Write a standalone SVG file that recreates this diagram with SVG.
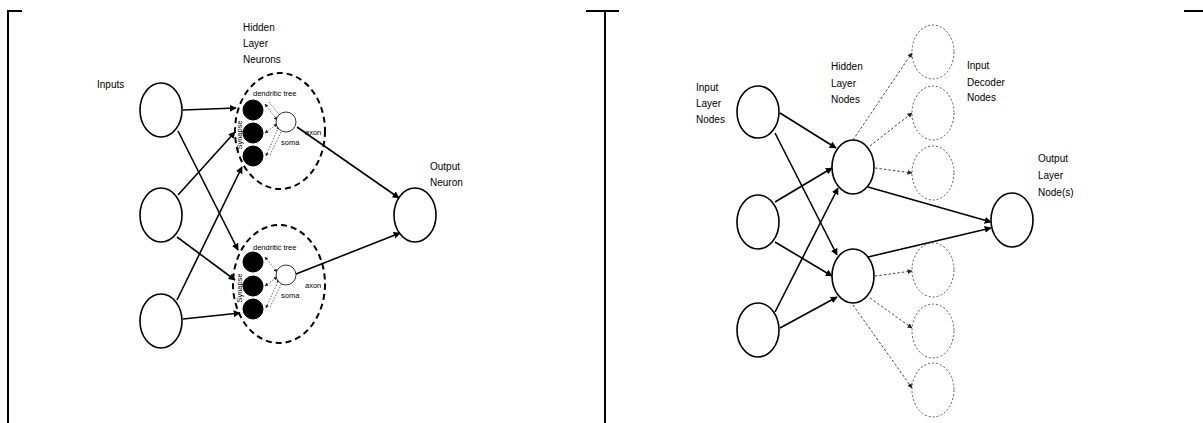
<svg xmlns="http://www.w3.org/2000/svg" width="1203" height="423" viewBox="0 0 1203 423">
<defs>
<style>
.node{fill:#fff;stroke:#000;stroke-width:1.6}
.hid{fill:none;stroke:#000;stroke-width:2;stroke-dasharray:6,4}
.blk{fill:#000;stroke:#000}
.soma{fill:#fff;stroke:#000;stroke-width:0.8}
.dec{fill:#fff;stroke:#555;stroke-width:1;stroke-dasharray:2,2}
.edge{stroke:#000;stroke-width:1.6;fill:none}
.dedge{stroke:#444;stroke-width:1;stroke-dasharray:2.5,2;fill:none}
.tiny{stroke:#333;stroke-width:0.7;stroke-dasharray:1.5,1.5;fill:none}
.frame{stroke:#000;stroke-width:2;fill:none}
text{font-family:"Liberation Sans",Arial,sans-serif;fill:#000}
.lbl{font-size:10px}
.sm{font-size:7.5px}
</style>
<marker id="arr" viewBox="0 0 10 10" refX="9" refY="5" markerWidth="7" markerHeight="7" markerUnits="userSpaceOnUse" orient="auto">
<path d="M0,0 L10,5 L0,10 z" fill="#000"/>
</marker>
<marker id="arrs" viewBox="0 0 10 10" refX="9" refY="5" markerWidth="5" markerHeight="5" markerUnits="userSpaceOnUse" orient="auto">
<path d="M0,0 L10,5 L0,10 z" fill="#222"/>
</marker>
<marker id="arrt" viewBox="0 0 10 10" refX="9" refY="5" markerWidth="3.5" markerHeight="3.5" markerUnits="userSpaceOnUse" orient="auto-start-reverse">
<path d="M0,0 L10,5 L0,10 z" fill="#222"/>
</marker>
</defs>
<rect width="1203" height="423" fill="#fff"/>
<g id="frames">
<path class="frame" d="M22,11 H8 V423"/>
<path class="frame" d="M586,11 H619 M605,11 V423"/>
<path class="frame" d="M1184,11 H1203"/>
</g>
<g id="connectors">
<line class="edge" x1="183" y1="110" x2="236" y2="108" marker-end="url(#arr)"/>
<line class="edge" x1="178" y1="131" x2="238" y2="250" marker-end="url(#arr)"/>
<line class="edge" x1="178" y1="195" x2="235" y2="132" marker-end="url(#arr)"/>
<line class="edge" x1="177" y1="237" x2="235" y2="280" marker-end="url(#arr)"/>
<line class="edge" x1="177" y1="300" x2="242" y2="167" marker-end="url(#arr)"/>
<line class="edge" x1="183" y1="319" x2="240" y2="313" marker-end="url(#arr)"/>
<line class="edge" x1="297" y1="127" x2="399" y2="198" marker-end="url(#arr)"/>
<line class="edge" x1="296" y1="274" x2="400" y2="233" marker-end="url(#arr)"/>
<line class="tiny" x1="265" y1="104" x2="277" y2="120" marker-start="url(#arrt)" marker-end="url(#arrt)"/>
<line class="tiny" x1="269" y1="102" x2="281" y2="117"/>
<line class="tiny" x1="265" y1="133" x2="277" y2="124" marker-start="url(#arrt)" marker-end="url(#arrt)"/>
<line class="tiny" x1="266" y1="156" x2="279" y2="126" marker-start="url(#arrt)" marker-end="url(#arrt)"/>
<line class="tiny" x1="270" y1="155" x2="283" y2="128"/>
<line class="tiny" x1="265" y1="257" x2="277" y2="272" marker-start="url(#arrt)" marker-end="url(#arrt)"/>
<line class="tiny" x1="265" y1="286" x2="277" y2="277" marker-start="url(#arrt)" marker-end="url(#arrt)"/>
<line class="tiny" x1="266" y1="308" x2="279" y2="279" marker-start="url(#arrt)" marker-end="url(#arrt)"/>
<line class="tiny" x1="270" y1="307" x2="283" y2="281"/>
<line class="edge" x1="780" y1="113" x2="836" y2="148" marker-end="url(#arr)"/>
<line class="edge" x1="775" y1="133" x2="837" y2="255" marker-end="url(#arr)"/>
<line class="edge" x1="775" y1="202" x2="832" y2="168" marker-end="url(#arr)"/>
<line class="edge" x1="775" y1="242" x2="832" y2="276" marker-end="url(#arr)"/>
<line class="edge" x1="775" y1="312" x2="838" y2="188" marker-end="url(#arr)"/>
<line class="edge" x1="780" y1="328" x2="837" y2="297" marker-end="url(#arr)"/>
<line class="edge" x1="868" y1="187" x2="991" y2="222" marker-end="url(#arr)"/>
<line class="edge" x1="868" y1="257" x2="991" y2="228" marker-end="url(#arr)"/>
<line class="dedge" x1="853" y1="140" x2="912" y2="53" marker-end="url(#arrs)"/>
<line class="dedge" x1="870" y1="146" x2="912" y2="113" marker-end="url(#arrs)"/>
<line class="dedge" x1="875" y1="168" x2="912" y2="173" marker-end="url(#arrs)"/>
<line class="dedge" x1="875" y1="276" x2="912" y2="271" marker-end="url(#arrs)"/>
<line class="dedge" x1="870" y1="298" x2="912" y2="328" marker-end="url(#arrs)"/>
<line class="dedge" x1="853" y1="305" x2="912" y2="388" marker-end="url(#arrs)"/>
</g>
<g id="inputs-left">
<ellipse class="node" cx="161" cy="110" rx="21" ry="27"/>
<ellipse class="node" cx="161" cy="215" rx="21" ry="27"/>
<ellipse class="node" cx="161" cy="321" rx="21" ry="27"/>
<text class="lbl" x="97" y="88">Inputs</text>
</g>
<g id="hidden-neuron-1">
<ellipse class="hid" cx="280" cy="131" rx="45" ry="58"/>
<circle class="blk" cx="253" cy="110" r="10"/>
<circle class="blk" cx="253" cy="133" r="10"/>
<circle class="blk" cx="253" cy="156" r="10"/>
<circle class="soma" cx="286" cy="122" r="10"/>
<text class="sm" x="253" y="96">dendritic tree</text>
<text class="sm" x="281" y="145">soma</text>
<text class="sm" x="305" y="135">axon</text>
<text class="sm" text-anchor="middle" transform="translate(241.5,135) rotate(-90)">Synapse</text>
</g>
<g id="hidden-neuron-2">
<ellipse class="hid" cx="279" cy="284" rx="46" ry="59"/>
<circle class="blk" cx="253" cy="262" r="10"/>
<circle class="blk" cx="253" cy="286" r="10"/>
<circle class="blk" cx="253" cy="309" r="10"/>
<circle class="soma" cx="286" cy="275" r="10"/>
<text class="sm" x="253" y="250">dendritic tree</text>
<text class="sm" x="281" y="298">soma</text>
<text class="sm" x="305" y="288">axon</text>
<text class="sm" text-anchor="middle" transform="translate(241.5,288) rotate(-90)">Synapse</text>
</g>
<g id="hidden-label-left">
<text class="lbl" x="243" y="31">Hidden</text>
<text class="lbl" x="243" y="47">Layer</text>
<text class="lbl" x="243" y="63">Neurons</text>
</g>
<g id="output-left">
<ellipse class="node" cx="415" cy="215" rx="21" ry="27"/>
<text class="lbl" x="430" y="170">Output</text>
<text class="lbl" x="430" y="186">Neuron</text>
</g>
<g id="inputs-right">
<ellipse class="node" cx="758" cy="112" rx="21" ry="26"/>
<ellipse class="node" cx="758" cy="222" rx="21" ry="27"/>
<ellipse class="node" cx="758" cy="330" rx="21" ry="27"/>
<text class="lbl" x="696" y="91">Input</text>
<text class="lbl" x="696" y="107">Layer</text>
<text class="lbl" x="696" y="123">Nodes</text>
</g>
<g id="hidden-right">
<ellipse class="node" cx="853" cy="167" rx="21" ry="27"/>
<ellipse class="node" cx="853" cy="276" rx="21" ry="27"/>
<text class="lbl" x="831" y="70">Hidden</text>
<text class="lbl" x="831" y="87">Layer</text>
<text class="lbl" x="831" y="103">Nodes</text>
</g>
<g id="decoders">
<ellipse class="dec" cx="933" cy="52" rx="21" ry="27"/>
<ellipse class="dec" cx="933" cy="113" rx="21" ry="27"/>
<ellipse class="dec" cx="933" cy="173" rx="21" ry="27"/>
<ellipse class="dec" cx="933" cy="270" rx="21" ry="27"/>
<ellipse class="dec" cx="933" cy="331" rx="21" ry="27"/>
<ellipse class="dec" cx="933" cy="390" rx="21" ry="27"/>
<text class="lbl" x="967" y="69">Input</text>
<text class="lbl" x="967" y="86">Decoder</text>
<text class="lbl" x="967" y="101">Nodes</text>
</g>
<g id="output-right">
<ellipse class="node" cx="1012" cy="220" rx="21" ry="27"/>
<text class="lbl" x="1038" y="162">Output</text>
<text class="lbl" x="1038" y="179">Layer</text>
<text class="lbl" x="1038" y="196">Node(s)</text>
</g>
</svg>
